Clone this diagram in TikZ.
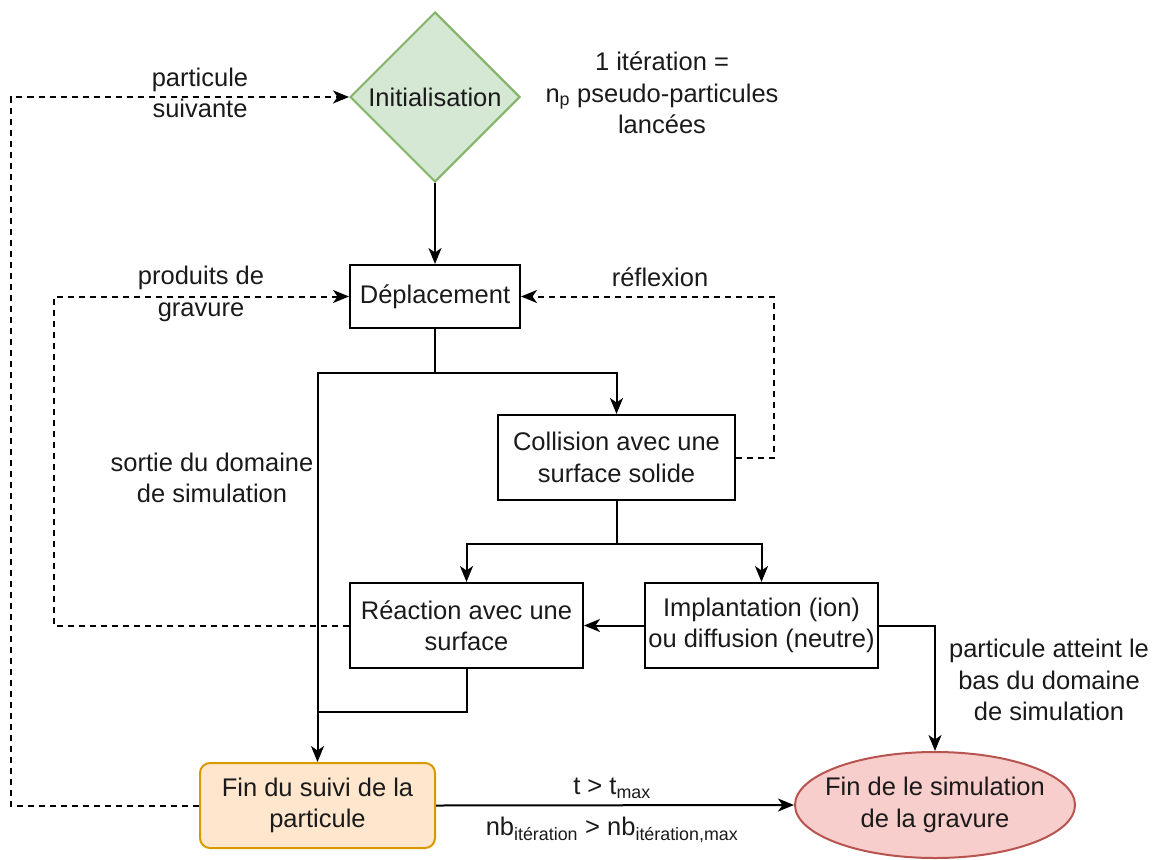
\documentclass[tikz,border=0pt]{standalone}
\usepackage{fontspec}
\setmainfont{Liberation Sans}
\usetikzlibrary{shapes.geometric,arrows.meta}
\definecolor{txt}{HTML}{1A1A1A}
\definecolor{gfill}{HTML}{D5E8D4}
\definecolor{gdraw}{HTML}{82B366}
\definecolor{ofill}{HTML}{FFE6CC}
\definecolor{odraw}{HTML}{D79B00}
\definecolor{rfill}{HTML}{F8CECC}
\definecolor{rdraw}{HTML}{B85450}
\tikzset{
  every node/.style={font=\fontsize{25.5}{31.5}\selectfont, text=txt, align=center},
  box/.style={draw=black, line width=2pt, inner sep=0pt},
  conn/.style={line width=2pt, draw=black},
  arr/.style={conn, -{Stealth[length=16pt,width=13pt,inset=4.5pt]}},
  dsh/.style={dash pattern=on 6pt off 5pt},
  lbl/.style={inner sep=0pt}
}
\begin{document}
\begin{tikzpicture}[x=1pt,y=-1pt]
\useasboundingbox (0,0) rectangle (1153,859);
% nodes
\node[diamond, aspect=1, draw=gdraw, fill=gfill, line width=2pt, minimum width=170pt, minimum height=170pt, inner sep=0pt] (init) at (435,97) {Initialisation};
\node[box, minimum width=170pt, minimum height=63pt] (dep) at (435,296.5) {Déplacement};
\node[box, minimum width=237pt, minimum height=85pt] (coll) at (616.5,457.5) {Collision avec une\\surface solide};
\node[box, minimum width=233pt, minimum height=85pt] (react) at (466.5,625.5) {Réaction avec une\\surface};
\node[box, minimum width=233pt, minimum height=85pt] (impl) at (761.5,625.5) {Implantation (ion)\\ou diffusion (neutre)};
\node[draw=odraw, fill=ofill, line width=2pt, rounded corners=10pt, minimum width=235pt, minimum height=85pt, inner sep=0pt] (fin) at (317.5,805.5) {Fin du suivi de la\\particule};
\node[ellipse, draw=rdraw, fill=rfill, line width=2pt, minimum width=280pt, minimum height=106pt, inner xsep=-19pt, inner ysep=0pt] (ell) at (935,805) {Fin de le simulation\\de la gravure};
% labels
\node[lbl] (liter) at (662,93) {1 itération =\\n\textsubscript{p} pseudo-particules\\lancées};
\node[lbl] (lsuiv) at (200,93) {particule\\suivante};
\node[lbl] (lprod) at (201,294) {produits de\\gravure};
\node[lbl] (lrefl) at (660,277) {réflexion};
\node[lbl] (lsort) at (212,478) {sortie du domaine\\de simulation};
\node[lbl] (lbas) at (1049,680) {particule atteint le\\bas du domaine\\de simulation};
\node[lbl] (ltmax) at (612,788) {t > t\textsubscript{max}};
\node[lbl] (lnb) at (612,830) {nb\textsubscript{itération} > nb\textsubscript{itération,max}};
% coordinates
\coordinate (join) at (318,712);
% connectors
\draw[arr] (init.south) -- (dep.north);
\draw[arr] (dep.south) -- ++(0,44) -| (fin.north);
\draw[arr] (dep.south) -- ++(0,44) -| (coll.north);
\draw[arr] (coll.south) -- ++(0,43) -| (react.north);
\draw[arr] (coll.south) -- ++(0,43) -| (impl.north);
\draw[arr] (impl.west) -- (react.east);
\draw[arr] (impl.east) -| (ell.north);
\draw[conn] (react.south) |- (join);
\draw[arr] (fin.east) -- (ell.west);
\draw[arr, dsh] (coll.east) -- ++(38,0) |- (dep.east);
\draw[arr, dsh] (react.west) -- ++(-295,0) |- (dep.west);
\draw[arr, dsh] (fin.west) -- ++(-188,0) |- (init.west);
\end{tikzpicture}
\end{document}
